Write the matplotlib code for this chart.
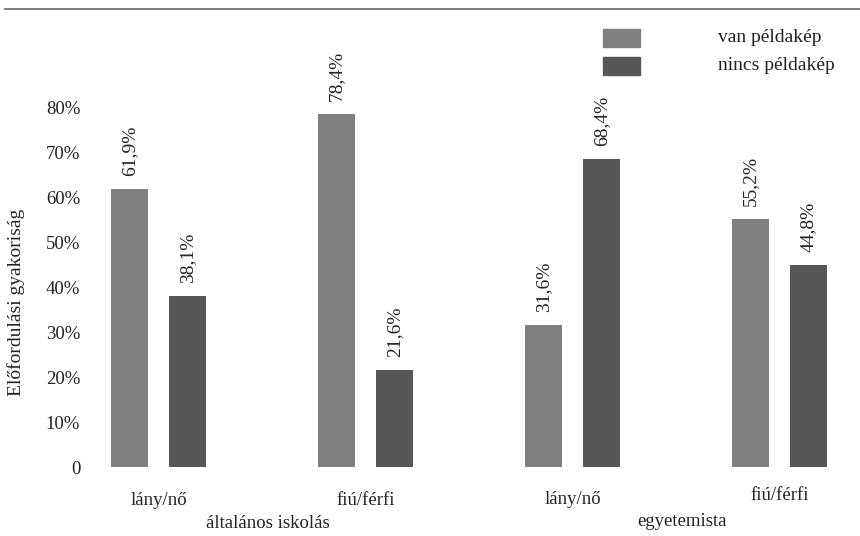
import numpy as np
import matplotlib
matplotlib.use("Agg")
import matplotlib.pyplot as plt
from matplotlib.lines import Line2D

plt.rcParams["font.family"] = ["Liberation Serif", "DejaVu Serif"]

CATEGORIES = ["lány/nő", "fiú/férfi", "lány/nő", "fiú/férfi"]
GROUPS = ["általános iskolás", "egyetemista"]
SERIES = ["van példakép", "nincs példakép"]
VAN = [61.9, 78.4, 31.6, 55.2]
NINCS = [38.1, 21.6, 68.4, 44.8]
YTICKS = [0, 10, 20, 30, 40, 50, 60, 70, 80]
YTICK_LABELS = ["0", "10%", "20%", "30%", "40%", "50%", "60%", "70%", "80%"]
COLORS = ["#808083", "#57575a"]
TXT = "#222222"
FS = 13.5

W, H = 860, 536
fig = plt.figure(figsize=(W / 100, H / 100), dpi=100)
# axes in pixel terms: left 90, right 850, bottom 467, top 10
ax = fig.add_axes([90 / W, (H - 467) / H, 760 / W, 457 / H])

x = np.arange(len(CATEGORIES))
bw, off = 0.179, 0.14
for vals, col, dx in [(VAN, COLORS[0], -off), (NINCS, COLORS[1], off)]:
    bars = ax.bar(x + dx, vals, width=bw, color=col)
    for b, v in zip(bars, vals):
        ax.text(b.get_x() + b.get_width() / 2, v + 2.9, f"{v:.1f}%".replace(".", ","),
                rotation=90, ha="center", va="bottom", fontsize=14, color=TXT)

ax.set_xlim(-0.331, 3.34)
ax.set_ylim(0, 101.6)
ax.set_yticks(YTICKS)
ax.set_yticklabels(YTICK_LABELS, fontsize=FS, color=TXT)
ax.tick_params(axis="y", length=0, pad=7)
ax.set_xticks([])
for s in ax.spines.values():
    s.set_visible(False)
ax.set_ylabel("Előfordulási gyakoriság", fontsize=14, color=TXT)
ax.yaxis.set_label_coords(-0.0855, 0.361)

# category and group labels
cat_y = [-7.5, -7.5, -7.3, -6.3]
for xi, lab, yy in zip(x, CATEGORIES, cat_y):
    ax.text(xi, yy, lab, ha="center", va="center", fontsize=FS, color=TXT, clip_on=False)
ax.text(0.527, -12.6, GROUPS[0], ha="center", va="center", fontsize=FS, color=TXT, clip_on=False)
ax.text(2.53, -12.2, GROUPS[1], ha="center", va="center", fontsize=FS, color=TXT, clip_on=False)

# legend drawn by hand
for i, (lab, col) in enumerate(zip(SERIES, COLORS)):
    yc = 38 + 28 * i
    fig.patches.append(plt.Rectangle((603 / W, (H - yc - 9) / H), 37 / W, 18 / H,
                                     transform=fig.transFigure, color=col))
    fig.text(718 / W, (H - yc) / H, lab, ha="left", va="center", fontsize=14, color=TXT)

fig.add_artist(Line2D([5 / W, 1], [(H - 9) / H] * 2, transform=fig.transFigure,
                      color="#666666", lw=1.2))

fig.savefig("out.png", dpi=100)
